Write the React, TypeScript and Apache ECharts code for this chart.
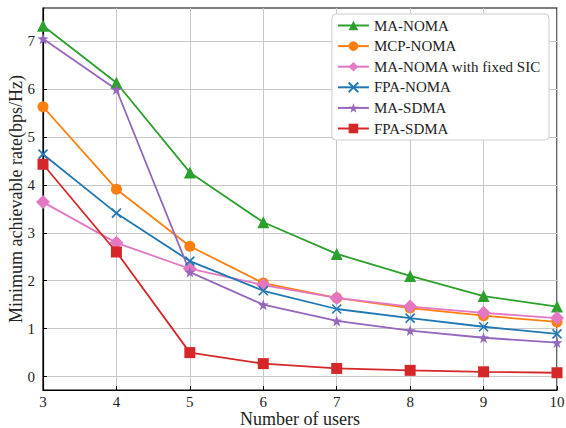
import React, { useEffect, useRef } from "react";
import * as echarts from "echarts";

const users = [3, 4, 5, 6, 7, 8, 9, 10];
const maNoma = [7.32, 6.13, 4.26, 3.22, 2.56, 2.1, 1.68, 1.46];
const mcpNoma = [5.63, 3.91, 2.72, 1.95, 1.64, 1.43, 1.27, 1.14];
const maNomaFixedSic = [3.64, 2.79, 2.25, 1.91, 1.64, 1.46, 1.33, 1.22];
const fpaNoma = [4.64, 3.41, 2.41, 1.79, 1.41, 1.22, 1.04, 0.89];
const maSdma = [7.05, 5.99, 2.18, 1.5, 1.16, 0.96, 0.81, 0.71];
const fpaSdma = [4.43, 2.6, 0.5, 0.27, 0.17, 0.13, 0.1, 0.08];
const yTicks = [0, 1, 2, 3, 4, 5, 6, 7];
const xTicks = [3, 4, 5, 6, 7, 8, 9, 10];

const FONT = "Liberation Serif";
const STAR =
  "path://M0,-10L2.35,-3.24L9.51,-3.09L3.8,1.24L5.88,8.09L0,4L-5.88,8.09L-3.8,1.24L-9.51,-3.09L-2.35,-3.24Z";
const CROSS = "path://M0,0L10,10M10,0L0,10";

const seriesDefs = [
  { name: "MA-NOMA", data: maNoma, color: "#2ca02c", symbol: "triangle", size: 12 },
  { name: "MCP-NOMA", data: mcpNoma, color: "#ff7f0e", symbol: "circle", size: 11 },
  { name: "MA-NOMA with fixed SIC", data: maNomaFixedSic, color: "#e377c2", symbol: "diamond", size: 14 },
  { name: "FPA-NOMA", data: fpaNoma, color: "#1f77b4", symbol: CROSS, size: 9 },
  { name: "MA-SDMA", data: maSdma, color: "#9467bd", symbol: STAR, size: 11 },
  { name: "FPA-SDMA", data: fpaSdma, color: "#d62728", symbol: "rect", size: 11 },
];

export default function App() {
  const ref = useRef<HTMLDivElement>(null);
  useEffect(() => {
    if (!ref.current) return;
    const chart = echarts.init(ref.current, null, { renderer: "svg" });
    chart.setOption({
      animation: false,
      backgroundColor: "#ffffff",
      grid: {
        left: 43,
        right: 9,
        top: 8,
        bottom: 38,
        show: true,
        borderColor: "#000",
        borderWidth: 1.2,
        containLabel: false,
        outerBoundsMode: "none",
      },
      legend: {
        orient: "vertical",
        right: 17,
        top: 14,
        backgroundColor: "#ffffff",
        borderColor: "#cccccc",
        borderWidth: 1,
        borderRadius: 4,
        padding: [4, 8, 4, 5],
        itemWidth: 31,
        itemHeight: 12,
        itemGap: 5.6,
        textStyle: { fontFamily: FONT, fontSize: 15, color: "#222", lineHeight: 14 },
        data: seriesDefs.map((s) => s.name),
      },
      xAxis: {
        type: "value",
        min: 3,
        max: 10,
        interval: 1,
        name: "Number of users",
        nameLocation: "middle",
        nameGap: 20,
        nameMoveOverlap: false,
        nameTextStyle: { fontFamily: FONT, fontSize: 18, color: "#222" },
        axisLine: { show: true, onZero: false, lineStyle: { color: "#000", width: 1.2 } },
        axisTick: { show: true, inside: true, length: 4, lineStyle: { color: "#000" } },
        axisLabel: { fontFamily: FONT, fontSize: 15, color: "#222", margin: 4, customValues: xTicks },
        splitLine: { show: true, lineStyle: { color: "#c8c8c8", width: 1 } },
      },
      yAxis: {
        type: "value",
        min: -0.28,
        max: 7.69,
        name: "Minimum achievable rate(bps/Hz)",
        nameLocation: "middle",
        nameGap: 18,
        nameMoveOverlap: false,
        nameTextStyle: { fontFamily: FONT, fontSize: 18, color: "#222" },
        axisLine: { show: true, onZero: false, lineStyle: { color: "#000", width: 1.2 } },
        axisTick: { show: true, inside: true, length: 4, lineStyle: { color: "#000" }, customValues: yTicks },
        axisLabel: { fontFamily: FONT, fontSize: 15, color: "#222", margin: 8, customValues: yTicks },
        splitLine: { show: true, lineStyle: { color: "#c8c8c8", width: 1 } },
      },
      series: seriesDefs.map((s) => ({
        name: s.name,
        type: "line",
        data: users.map((u, i) => [u, s.data[i]]),
        symbol: s.symbol,
        symbolSize: s.size,
        showSymbol: true,
        lineStyle: { color: s.color, width: 1.8 },
        itemStyle: { color: s.color, borderColor: s.color, borderWidth: s.symbol === CROSS ? 1.6 : 0 },
        emphasis: { disabled: true },
      })),
    });
    return () => chart.dispose();
  }, []);
  return <div ref={ref} style={{ position: "fixed", left: 0, top: 0, width: 566, height: 428 }} />;
}
